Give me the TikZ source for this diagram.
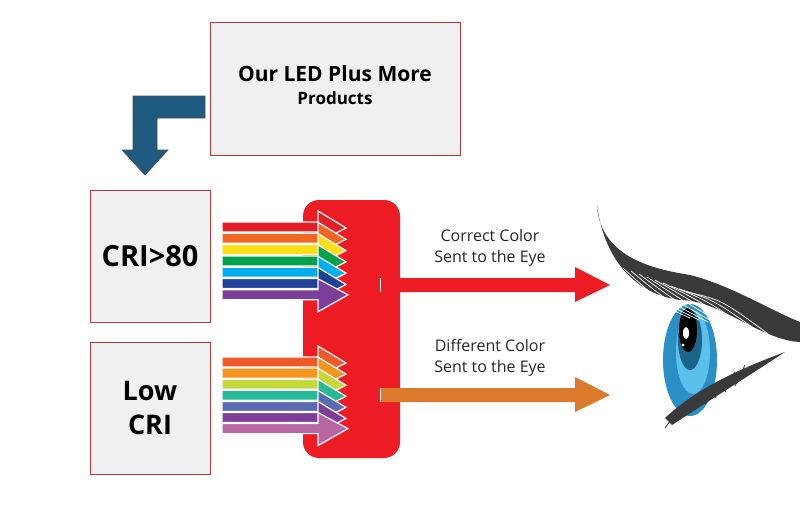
\documentclass[tikz,border=0pt]{standalone}
\usepackage{fontspec}
\setmainfont{Open Sans}
\usetikzlibrary{positioning}
\definecolor{boxgray}{HTML}{F0F0F0}
\definecolor{boxline}{HTML}{B03A3A}
\definecolor{lensred}{HTML}{ED1C24}
\definecolor{navy}{HTML}{1F5A80}
\definecolor{outorange}{HTML}{DC7A2C}
\definecolor{irisblue}{HTML}{2A8FC4}
\definecolor{irislight}{HTML}{5BC0EB}
\definecolor{lashgray}{HTML}{3A3A3C}
\begin{document}
\begin{tikzpicture}[x=1pt,y=-1pt,
  panel/.style={draw=boxline, fill=boxgray, line width=0.8pt},
  stripe/.style={draw=white, line width=1.2pt}]
  \useasboundingbox (0,0) rectangle (800,525);
  %% boxes %%
  \draw[panel] (210,22) rectangle (460,155);
  \node[font=\bfseries\fontsize{21}{24}\selectfont] (title) at (335,74) {Our LED Plus More};
  \node[font=\bfseries\fontsize{17}{20}\selectfont, below=2pt of title] (prod) {Products};
  \draw[panel] (90,190) rectangle (210,322);
  \node[font=\bfseries\fontsize{29}{32}\selectfont] (cri) at (150,256) {CRI>80};
  \draw[panel] (90,342) rectangle (210,474);
  \node[font=\bfseries\fontsize{27}{34}\selectfont, align=center] (low) at (150,408) {Low\\CRI};
  %% bent arrow %%
  \draw[fill=navy, draw=black!70, line width=0.6pt]
    (205,96) -- (205,118) -- (157,118) -- (157,150) -- (168,150) -- (145,175)
    -- (122,150) -- (133,150) -- (133,96) -- cycle;
  %% filter %%
  \fill[lensred, rounded corners=16pt] (303,200) rectangle (400,458);
  %% rainbow arrows %%
  \foreach \c [count=\i] in {E31E26,F26522,FFDE17,00A14B,00AEEF,21409A,7B3F99} {
    \pgfmathsetmacro\t{222+11.3*(\i-1)}
    \definecolor{cur}{HTML}{\c}
    \ifnum\i<7
      \draw[stripe, fill=cur] (222,\t) -- (318,\t) -- (318,\t-11) -- (346,\t+6) -- (318,\t+20) -- (318,\t+10) -- (222,\t+10) -- cycle;
    \else
      \draw[stripe, fill=cur] (222,\t) -- (318,\t) -- (318,\t-11) -- (348,\t+5) -- (318,\t+22) -- (318,\t+10) -- (222,\t+10) -- cycle;
    \fi
  }
  \foreach \c [count=\i] in {EF5A2A,F7941D,C5D93D,26B99A,5B6BB3,7E3E97,B767A4} {
    \pgfmathsetmacro\t{357+11.1*(\i-1)}
    \definecolor{cur}{HTML}{\c}
    \ifnum\i<7
      \draw[stripe, fill=cur] (222,\t) -- (318,\t) -- (318,\t-11) -- (346,\t+6) -- (318,\t+20) -- (318,\t+10) -- (222,\t+10) -- cycle;
    \else
      \draw[stripe, fill=cur] (222,\t) -- (318,\t) -- (318,\t-11) -- (348,\t+5) -- (318,\t+22) -- (318,\t+10) -- (222,\t+10) -- cycle;
    \fi
  }
  %% output arrows %%
  \fill[lensred] (380,278) -- (575,278) -- (575,267) -- (610,285) -- (575,302) -- (575,292) -- (380,292) -- cycle;
  \fill[outorange] (380,388) -- (575,388) -- (575,377) -- (610,395) -- (575,412) -- (575,402) -- (380,402) -- cycle;
  \draw[white, line width=1pt] (380,278) -- (380,292) (380,388) -- (380,402);
  \node[font=\fontsize{16}{21}\selectfont, align=center, text=black!85] (good) at (490,248) {Correct Color\\Sent to the Eye};
  \node[font=\fontsize{16}{21}\selectfont, align=center, text=black!85] (bad) at (490,358) {Different Color\\Sent to the Eye};
  %% eye %%
  \fill[irisblue] (690,360) ellipse [x radius=27, y radius=56];
  \fill[irislight] (693,352) ellipse [x radius=17, y radius=42];
  \fill[irisblue!70!black] (690,340) ellipse [x radius=12, y radius=30];
  \fill[black] (688,330) ellipse [x radius=9, y radius=22];
  \fill[white] (686,333) ellipse [x radius=3, y radius=6];
  \fill[white] (683,345) circle (1.6);
  \fill[lashgray] (597,205) .. controls (600,260) and (660,270) .. (690,275)
    .. controls (730,285) and (770,310) .. (800,322) -- (800,342)
    .. controls (760,340) and (720,300) .. (680,300)
    .. controls (640,295) and (605,265) .. (597,205) -- cycle;
  \foreach \a in {0,...,9} {
    \draw[white, line width=0.7pt] (615+8*\a,265+3*\a) .. controls (650+8*\a,300) .. (690+9*\a,318+2*\a);
  }
  \fill[lashgray] (665,418) .. controls (700,385) and (750,365) .. (785,352)
    .. controls (750,375) and (710,400) .. (672,425) -- cycle;
  \foreach \a in {0,...,7} {
    \draw[lashgray, line width=0.8pt] (675+10*\a,414-7*\a) -- (665+10*\a,428-6*\a);
  }
\end{tikzpicture}
\end{document}
